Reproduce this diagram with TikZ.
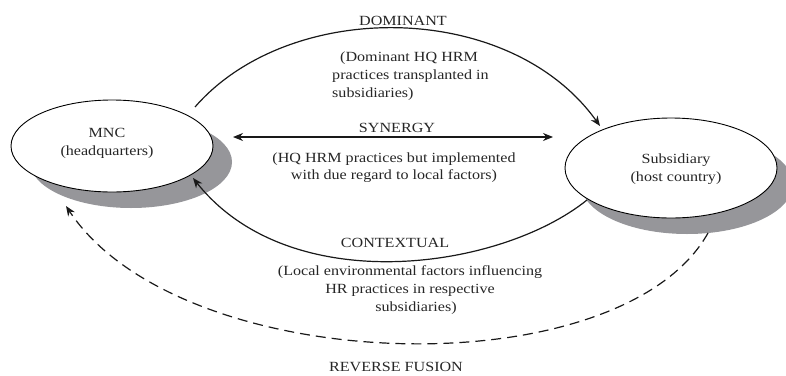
\documentclass[tikz,border=0pt]{standalone}
\usepackage{fontspec}
\setmainfont{Liberation Serif}[FakeStretch=1.15]
\usetikzlibrary{arrows.meta,shapes.geometric,calc}
\definecolor{shadowgray}{RGB}{150,150,154}
\tikzset{
  every node/.style={font=\fontsize{14}{18}\selectfont, text=black!85},
  blob/.style={ellipse, draw=black, line width=0.9pt, fill=white, inner sep=0pt, align=center},
  shadowblob/.style={ellipse, fill=shadowgray, inner sep=0pt},
  conn/.style={line width=1.2pt, draw=black!90},
  tip/.style={-{Stealth[length=10pt,width=8pt]}},
  lbl/.style={align=center, inner sep=0pt}
}
\begin{document}
\begin{tikzpicture}[x=1pt,y=-1pt]
\useasboundingbox (0,0) rectangle (786,375);
% shadows
\node[shadowblob, minimum width=202pt, minimum height=92pt] (mncsh) at (131,162) {};
\node[shadowblob, minimum width=212pt, minimum height=100pt] (subsh) at (687,184) {};
% ellipses
\node[blob, minimum width=202pt, minimum height=92pt] (mnc) at (112,146) {};
\node[blob, minimum width=212pt, minimum height=100pt] (sub) at (671,168) {};
\node[lbl] (mnct) at (107,143) {MNC\\(headquarters)};
\node[lbl] (subt) at (676,169) {Subsidiary\\(host country)};
% connector end points, placed relative to the ellipses
\coordinate (domS) at ($(mnc.center)+(83,-39)$);
\coordinate (domE) at ($(sub.center)+(-71,-42)$);
\coordinate (synL) at ($(mnc.center)+(121,-9)$);
\coordinate (synR) at ($(sub.center)+(-118,-31)$);
\coordinate (ctxS) at ($(sub.center)+(-84,32)$);
\coordinate (ctxE) at ($(mnc.center)+(81,32)$);
\coordinate (revS) at ($(sub.center)+(37,65)$);
\coordinate (revE) at ($(mnc.center)+(-46,60)$);
% dominant
\draw[conn, tip] (domS) .. controls (290,-2) and (510,0) .. (domE);
\node[lbl] (dom) at (403,21) {DOMINANT};
\node[lbl, align=left, anchor=north west] (domt) at (332,52) {\hspace{8pt}(Dominant HQ HRM\\practices transplanted in\\subsidiaries)};
% synergy
\draw[conn, {Stealth[length=10pt,width=8pt]}-{Stealth[length=10pt,width=8pt]}] (synL) -- (synR);
\node[lbl] (syn) at (397,128) {SYNERGY};
\node[lbl, font=\fontsize{14}{17}\selectfont] (synt) at (394,168) {(HQ HRM practices but implemented\\with due regard to local factors)};
% contextual
\draw[conn, tip] (ctxS) .. controls (500,270) and (290,300) .. (ctxE);
\node[lbl] (ctx) at (395,243) {CONTEXTUAL};
\node[lbl] (ctxt) at (410,290) {(Local environmental factors influencing\\HR practices in respective\\\hspace{12pt}subsidiaries)};
% reverse fusion
\draw[conn, tip, dash pattern=on 10pt off 6pt] (revS) .. controls (620,390) and (180,378) .. (revE);
\node[lbl] (rev) at (396,367) {REVERSE FUSION};
\end{tikzpicture}
\end{document}
